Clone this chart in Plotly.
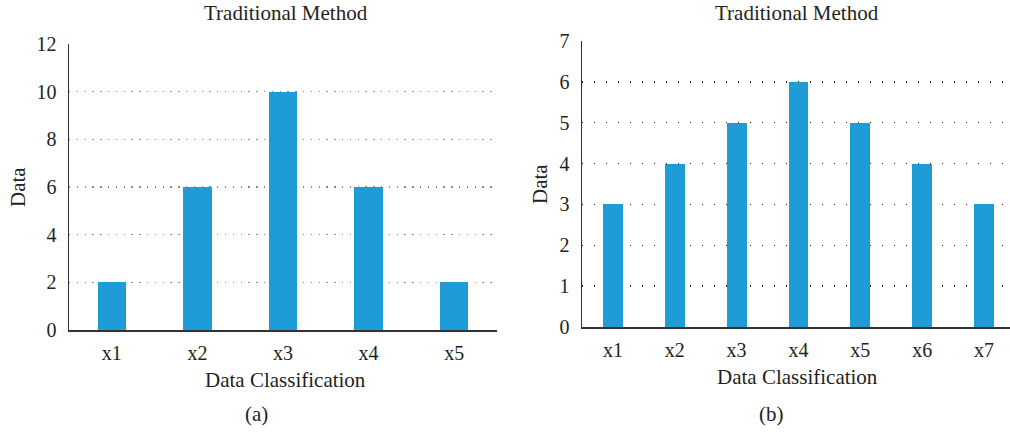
import plotly.graph_objects as go

cats_a = ["x1", "x2", "x3", "x4", "x5"]
vals_a = [2, 6, 10, 6, 2]
cats_b = ["x1", "x2", "x3", "x4", "x5", "x6", "x7"]
vals_b = [3, 4, 5, 6, 5, 4, 3]
title_text = "Traditional Method"
xlabel = "Data Classification"
ylabel = "Data"
panel_labels = ["(a)", "(b)"]

W, H = 1010, 434
BAR = "#1E9CD7"
FONT = "Liberation Serif, Times New Roman, serif"
TXT = "#231F20"
FS_T = 20
FS_L = 21

def px_x(v):
    return v / W

def px_y(v):
    return 1 - v / H

fig = go.Figure()
fig.add_trace(go.Bar(x=cats_a, y=vals_a, marker=dict(color=BAR, line=dict(width=0)),
                     width=0.33, xaxis="x", yaxis="y", showlegend=False, hoverinfo="skip"))
fig.add_trace(go.Bar(x=cats_b, y=vals_b, marker=dict(color=BAR, line=dict(width=0)),
                     width=0.32, xaxis="x2", yaxis="y2", showlegend=False, hoverinfo="skip"))

axfont = dict(family=FONT, size=FS_T, color=TXT)
common_x = dict(showgrid=False, showline=True, linecolor="#333333", linewidth=1.5,
                ticks="", tickfont=axfont, zeroline=False, ticklabelstandoff=4,
                automargin=False)
common_y = dict(showline=True, linecolor="#333333", linewidth=1.5, ticks="",
                tickfont=axfont, zeroline=False, ticklabelstandoff=7, automargin=False,
                showgrid=True, gridwidth=1.3)

fig.update_layout(
    width=W, height=H, autosize=False,
    margin=dict(l=0, r=0, t=0, b=0, pad=0, autoexpand=False),
    paper_bgcolor="white", plot_bgcolor="white",
    bargap=0,
    font=dict(family=FONT, color=TXT),
    xaxis=dict(domain=[px_x(69), px_x(497)], anchor="y", range=[-0.5, 4.5], **common_x),
    yaxis=dict(domain=[px_y(330), px_y(44)], anchor="x", range=[0, 12], dtick=2,
               gridcolor="#8a8a8a", griddash="1.3px,6.5px", **common_y),
    xaxis2=dict(domain=[px_x(582), 1.0], anchor="y2", range=[-0.5, 6.42], **common_x),
    yaxis2=dict(domain=[px_y(327), px_y(41)], anchor="x2", range=[0, 7], dtick=1,
                gridcolor="#222222", griddash="1.3px,10.7px", **common_y),
)

ann = []
def add(text, x, y, size=FS_L, angle=0):
    ann.append(dict(text=text, x=px_x(x), y=px_y(y), xref="paper", yref="paper",
                    showarrow=False, xanchor="center", yanchor="middle", textangle=angle,
                    font=dict(family=FONT, size=size, color=TXT)))

add(title_text, 286, 13)
add(title_text, 797, 13)
add(xlabel, 285, 380)
add(xlabel, 797, 377)
add(ylabel, 18, 187, angle=-90)
add(ylabel, 540, 184, angle=-90)
add(panel_labels[0], 256, 414)
add(panel_labels[1], 771, 414)
fig.update_layout(annotations=ann, hovermode=False)

fig.write_html(
    "out.html",
    config={"responsive": False, "displayModeBar": False, "staticPlot": True},
    post_script="document.body.style.margin='0';document.body.style.padding='0';document.body.style.overflow='hidden';",
)
